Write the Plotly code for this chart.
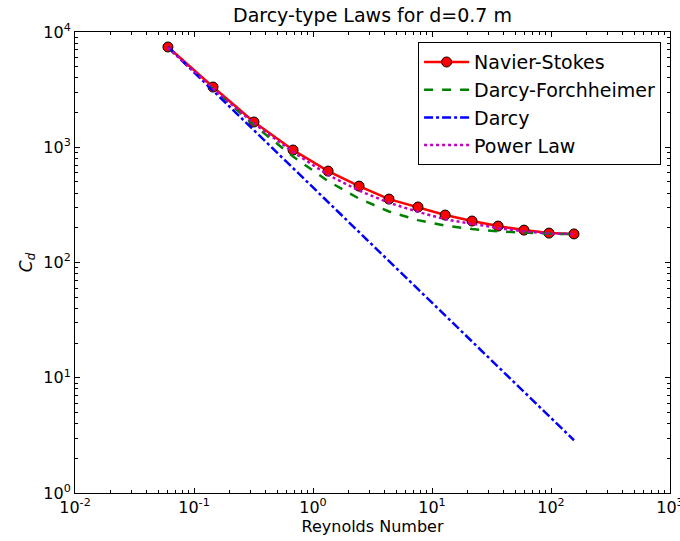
import plotly.graph_objects as go

# Data
reynolds = [0.0604, 0.1445, 0.319, 0.68, 1.34, 2.44, 4.35, 7.62, 12.9, 21.7, 35.9, 59.3, 96.2, 156]
navier_stokes = [7410, 3330, 1656, 946, 621, 460, 355, 303, 258, 229, 207, 191, 180, 177]
darcy_forchheimer = [7300, 3200, 1560, 830, 508, 358, 277, 233, 209, 195, 186, 181, 178, 176]
darcy = [7417, 3100, 1404, 659, 334, 184, 103, 58.8, 34.7, 20.6, 12.5, 7.55, 4.66, 2.87]
power_law = [7300, 3250, 1610, 910, 575, 420, 330, 275, 237, 216, 199, 186, 178, 177]

x_tickvals = [1e-2, 1e-1, 1e0, 1e1, 1e2, 1e3]
x_ticktext = ["10<sup>-2</sup>", "10<sup>-1</sup>", "10<sup>0</sup>", "10<sup>1</sup>", "10<sup>2</sup>", "10<sup>3</sup>"]
y_tickvals = [1e0, 1e1, 1e2, 1e3, 1e4]
y_ticktext = ["10<sup>0</sup>", "10<sup>1</sup>", "10<sup>2</sup>", "10<sup>3</sup>", "10<sup>4</sup>"]

x_minor = [m * d for d in x_tickvals[:-1] for m in range(2, 10)]
y_minor = [m * d for d in y_tickvals[:-1] for m in range(2, 10)]

FONT = "DejaVu Sans"

fig = go.Figure()
fig.add_trace(go.Scatter(
    x=reynolds, y=navier_stokes, name="Navier-Stokes", mode="lines+markers",
    line=dict(color="red", width=2.5),
    marker=dict(color="red", size=10, line=dict(color="black", width=1)),
))
fig.add_trace(go.Scatter(
    x=reynolds, y=darcy_forchheimer, name="Darcy-Forchheimer", mode="lines",
    line=dict(color="#008000", width=2.5, dash="dash"),
))
fig.add_trace(go.Scatter(
    x=reynolds, y=darcy, name="Darcy", mode="lines",
    line=dict(color="blue", width=2.5, dash="dashdot"),
))
fig.add_trace(go.Scatter(
    x=reynolds, y=power_law, name="Power Law", mode="lines",
    line=dict(color="#bf00bf", width=2.5, dash="dot"),
))

axis_common = dict(
    type="log", showgrid=False, zeroline=False, showline=True, linecolor="black",
    linewidth=1, mirror="allticks", ticks="inside", ticklen=5, tickcolor="black",
    tickmode="array", ticklabeloverflow="allow", automargin=False,
    tickfont=dict(family=FONT, size=16, color="black"),
)

fig.update_layout(
    width=680, height=541,
    margin=dict(l=75, r=10, t=32, b=48),
    paper_bgcolor="white", plot_bgcolor="white",
    font=dict(family=FONT, color="black"),
    title=dict(text="Darcy-type Laws for d=0.7 m", x=372.5 / 680, xanchor="center",
               y=1 - 15 / 541, yanchor="middle", font=dict(family=FONT, size=19, color="black")),
    showlegend=True,
    legend=dict(x=0.985, y=0.978, xanchor="right", yanchor="top", itemwidth=45,
                bordercolor="black", borderwidth=1, bgcolor="white",
                font=dict(family=FONT, size=19, color="black")),
)
fig.update_xaxes(**axis_common, range=[-2, 3], tickvals=x_tickvals, ticktext=x_ticktext,
                 minor=dict(tickmode="array", tickvals=x_minor, ticks="inside", ticklen=3,
                            tickcolor="black", showgrid=False),
                 title=dict(text="Reynolds Number", font=dict(family=FONT, size=16, color="black"), standoff=4))
fig.update_yaxes(**axis_common, range=[0, 4], tickvals=y_tickvals, ticktext=y_ticktext,
                 minor=dict(tickmode="array", tickvals=y_minor, ticks="inside", ticklen=3,
                            tickcolor="black", showgrid=False),
                 title=dict(text="<i>C<sub>d</sub></i>", font=dict(family=FONT, size=17, color="black"), standoff=6))

fig.write_html("out.html")
